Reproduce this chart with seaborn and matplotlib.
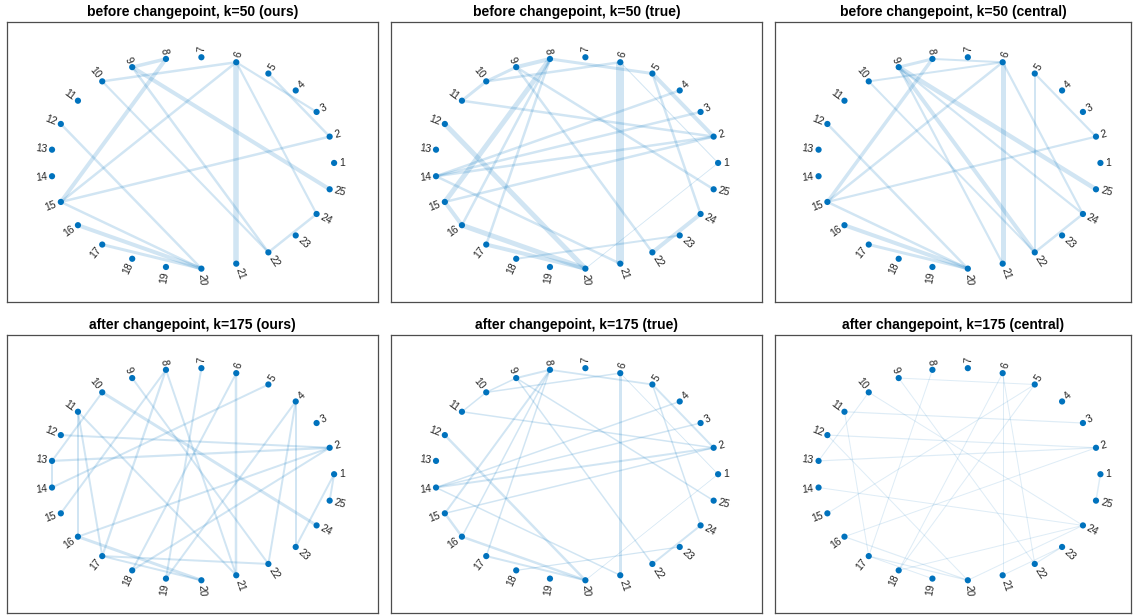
import numpy as np
import matplotlib
matplotlib.use("Agg")
import matplotlib.pyplot as plt
import seaborn as sns

sns.set_theme(style="white")
plt.rcParams['font.family'] = ['Liberation Sans', 'DejaVu Sans']

# ---- graph data: 25 nodes on a circle, weighted undirected edges ----
node_labels = [str(i) for i in range(1, 26)]

titles = [
    "before changepoint, k=50 (ours)",
    "before changepoint, k=50 (true)",
    "before changepoint, k=50 (central)",
    "after changepoint, k=175 (ours)",
    "after changepoint, k=175 (true)",
    "after changepoint, k=175 (central)",
]

# before changepoint, ours
before_ours_src = [8, 8, 6, 6, 6, 6, 6, 5, 9, 9, 10, 12, 15, 15, 16, 17, 22]
before_ours_dst = [9, 15, 10, 15, 21, 24, 3, 2, 25, 22, 22, 20, 2, 20, 20, 20, 24]
before_ours_w = [3.5, 4, 2.5, 2.5, 5.5, 2.2, 2.2, 2.5, 4, 2.5, 2.2, 2.5, 2.5, 2.5, 4, 3, 2.5]

# before changepoint, true
before_true_src = [8, 9, 10, 10, 8, 8, 8, 8, 11, 9, 9, 6, 5, 5, 6, 4, 3, 2, 2, 12, 14, 15, 16, 17, 18, 20, 22]
before_true_dst = [9, 10, 11, 6, 5, 15, 16, 17, 2, 22, 25, 21, 2, 24, 1, 14, 14, 14, 15, 20, 21, 16, 20, 20, 23, 1, 24]
before_true_w = [4, 3, 3, 2.5, 3, 5, 2.5, 2.5, 2.5, 2.5, 2.5, 8, 4, 2.5, 1, 2.5, 2.5, 2.5, 2.5, 5,
                 2.5, 4, 5, 4, 2, 0.8, 4]

# before changepoint, central
before_central_src = [8, 8, 10, 8, 6, 6, 6, 5, 5, 9, 9, 9, 9, 10, 12, 15, 15, 16, 17, 22]
before_central_dst = [9, 6, 6, 15, 15, 21, 24, 22, 2, 25, 22, 21, 24, 22, 20, 2, 20, 20, 20, 24]
before_central_w = [3, 2, 2, 3.5, 2.5, 5, 2.2, 2, 2.2, 4.5, 4, 2.2, 2.2, 2, 2.5, 2.2, 2.5, 4, 3, 2.5]

# after changepoint, ours
after_ours_src = [8, 8, 8, 9, 10, 10, 13, 12, 13, 11, 11, 11, 16, 16, 17, 17, 18, 18, 19, 19, 14, 6, 4, 4, 1, 1]
after_ours_dst = [17, 15, 21, 22, 24, 13, 14, 2, 2, 16, 17, 21, 2, 20, 20, 22, 6, 2, 4, 7, 5, 21, 22, 23, 25, 23]
after_ours_w = [2.2, 2, 2, 2, 3, 2, 2, 2, 2.2, 2, 2, 2, 2, 3, 2, 2, 2, 2, 2, 2, 2, 2.5, 2, 2, 2, 2]

# after changepoint, true
after_true_src = before_true_src
after_true_dst = before_true_dst
after_true_w = [2, 1.5, 1.5, 1.5, 1.8, 2, 1.5, 1.5, 1.5, 1.5, 1.5, 3, 2, 1.5, 0.8, 1.5, 1.5, 2, 1.5, 2.5,
                1.5, 2.5, 2.5, 2, 1.2, 0.7, 2]

# after changepoint, central
after_central_src = [9, 9, 10, 10, 11, 11, 12, 12, 13, 14, 15, 16, 16, 17, 17, 8, 18, 18, 18, 20, 21, 22, 6, 6, 1]
after_central_dst = [5, 22, 13, 24, 3, 17, 2, 20, 2, 24, 5, 2, 20, 19, 20, 17, 5, 6, 24, 24, 23, 23, 21, 22, 25]
after_central_w = [1, 1, 1, 1, 1.2, 1, 1.2, 1, 1.2, 1, 1, 1, 1.2, 1, 1.2, 1, 1, 1, 1, 1, 1, 1.2, 1, 1, 1.5]

panels = [
    (before_ours_src, before_ours_dst, before_ours_w),
    (before_true_src, before_true_dst, before_true_w),
    (before_central_src, before_central_dst, before_central_w),
    (after_ours_src, after_ours_dst, after_ours_w),
    (after_true_src, after_true_dst, after_true_w),
    (after_central_src, after_central_dst, after_central_w),
]

# ---- styling ----
NODE_COLOR = "#0072BD"
EDGE_COLOR = "#0072BD"
EDGE_ALPHA = [0.18, 0.18, 0.18, 0.18, 0.18, 0.13]
LABEL_COLOR = "#262626"

# circular layout, node 1 at angle 0, counter-clockwise
n = len(node_labels)
theta = 2 * np.pi * np.arange(n) / n
xs = np.cos(theta)
ys = np.sin(theta)

W, H = 1136, 615
fig = plt.figure(figsize=(W / 100, H / 100), dpi=100)
fig.patch.set_facecolor("white")

# axes boxes in pixels: (left, top, right, bottom)
boxes = [
    (7, 22, 378, 302), (391, 22, 762, 302), (775, 22, 1131, 302),
    (7, 335, 378, 613), (391, 335, 762, 613), (775, 335, 1131, 613),
]
xlims = [(-1.31, 1.31), (-1.31, 1.31), (-1.30, 1.216)] * 2
ylims = [(-1.313, 1.331)] * 3 + [(-1.306, 1.31)] * 3

for i, ((src, dst, w), (l, t, r, b)) in enumerate(zip(panels, boxes)):
    ax = fig.add_axes([l / W, 1 - b / H, (r - l) / W, (b - t) / H])
    ax.set_xlim(*xlims[i])
    ax.set_ylim(*ylims[i])

    for s, d, wt in zip(src, dst, w):
        ax.plot([xs[s - 1], xs[d - 1]], [ys[s - 1], ys[d - 1]],
                color=EDGE_COLOR, lw=wt * 0.72, alpha=EDGE_ALPHA[i],
                solid_capstyle="butt", zorder=1)

    sns.scatterplot(x=xs, y=ys, ax=ax, color=NODE_COLOR, s=20,
                    edgecolor="none", linewidth=0, zorder=3, legend=False)

    for k in range(n):
        ang = np.degrees(theta[k])
        a = (ang + 180) % 360 - 180
        if -90 < a <= 90:
            rot, ha = a, "left"
        else:
            rot, ha = a - 180 if a > 0 else a + 180, "right"
        off = 3.6
        ax.annotate(node_labels[k], (xs[k], ys[k]),
                    xytext=(off * np.cos(theta[k]), off * np.sin(theta[k])),
                    textcoords="offset points", rotation=rot,
                    rotation_mode="anchor", ha=ha, va="center",
                    fontsize=7.5, color=LABEL_COLOR, zorder=4)

    ax.set_xticks([])
    ax.set_yticks([])
    for sp in ax.spines.values():
        sp.set_visible(True)
        sp.set_color("#4d4d4d")
        sp.set_linewidth(0.9)
    ax.set_title(titles[i], fontsize=10, fontweight="bold", pad=4, color="black")

fig.savefig("out.png", dpi=100, facecolor="white")
